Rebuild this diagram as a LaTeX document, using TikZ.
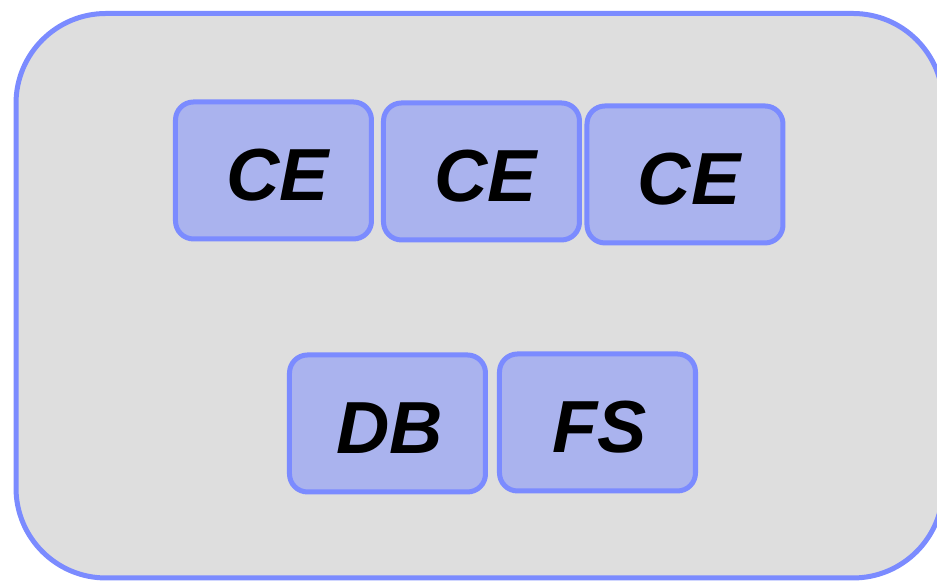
\documentclass[tikz,border=0pt]{standalone}
\usepackage{fontspec}
\setmainfont{Liberation Sans}
\usepackage{xcolor}
\definecolor{frameblue}{RGB}{123,139,255}
\definecolor{boxblue}{RGB}{170,179,238}
\definecolor{panelgray}{RGB}{222,222,222}
\newcommand{\boxtext}[2][0.08cm]{\kern#1\raisebox{-0.045cm}[\height][\depth]{#2}}
\tikzset{
  panel/.style={
    fill=panelgray,
    draw=frameblue,
    line width=0.05cm,
    rounded corners=0.9cm,
  },
  blue box/.style={
    fill=boxblue,
    draw=frameblue,
    line width=0.05cm,
    rounded corners=0.18cm,
    minimum width=1.96cm,
    minimum height=1.37cm,
    font=\fontsize{21pt}{24pt}\selectfont\bfseries\itshape,
  }
}

\begin{document}
\begin{tikzpicture}
    \useasboundingbox (0,0) rectangle (9.37,5.81);
    \clip (0,0) rectangle (9.37,5.81);
    \draw [panel] (0.16,0.03) rectangle (9.43,5.675);

    \node [blue box] (ce1) at (2.735,4.105) {\boxtext{CE}};
    \node [blue box] (ce2) at (4.815,4.095) {\boxtext{CE}};
    \node [blue box] (ce3) at (6.85,4.065) {\boxtext{CE}};

    \node [blue box] (db) at (3.875,1.575) {\boxtext[0.04cm]{DB}};
    \node [blue box] (fs) at (5.975,1.585) {\boxtext[0.04cm]{FS}};
\end{tikzpicture}
\end{document}
